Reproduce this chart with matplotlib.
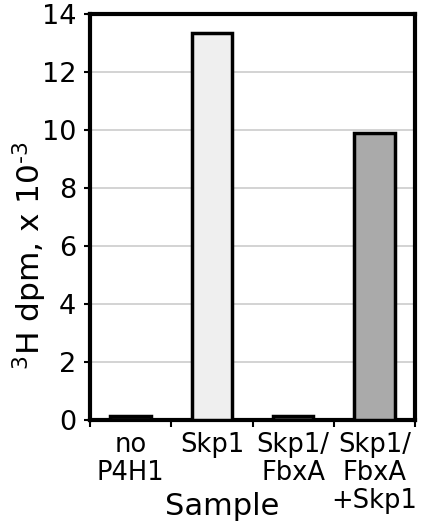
import matplotlib
matplotlib.use("Agg")
import matplotlib.pyplot as plt
import numpy as np

categories = ["no\nP4H1", "Skp1", "Skp1/\nFbxA", "Skp1/\nFbxA\n+Skp1"]
values = [0.15, 13.35, 0.15, 9.9]
colors = ["#111111", "#efefef", "#555555", "#aaaaaa"]
yticks = [0, 2, 4, 6, 8, 10, 12, 14]

plt.rcParams['font.family'] = ['DejaVu Sans']
plt.rcParams['mathtext.fontset'] = 'dejavusans'

fig = plt.figure(figsize=(4.25, 5.22), dpi=100)
ax = fig.add_axes([90/425, 102/522, 325/425, 406/522])

x = np.arange(len(categories))
ax.bar(x, values, width=0.5, color=colors, edgecolor="black", linewidth=2.5, zorder=3)

ax.set_xlim(-0.5, len(categories) - 0.5)
ax.set_ylim(0, 14)
ax.set_yticks(yticks)
ax.set_yticklabels([str(v) for v in yticks])
ax.yaxis.grid(True, color="#cccccc", linewidth=1.2, zorder=0)
ax.set_axisbelow(True)

ax.set_xticks(x)
ax.set_xticklabels(categories, fontsize=18.5, linespacing=1.1)
ax.set_xticks(np.arange(-0.5, len(categories)), minor=True)
ax.tick_params(axis='x', which='major', length=0, pad=9)
ax.tick_params(axis='x', which='minor', length=5, width=1.5, direction='out')
ax.tick_params(axis='y', which='major', length=4, width=1.5, direction='out',
               labelsize=19.5, pad=6)

for s in ax.spines.values():
    s.set_linewidth(3)
    s.set_color("black")

ax.set_ylabel(r"$^{3}$H dpm, x 10$^{\text{-}3}$", fontsize=22.5)
ax.yaxis.set_label_coords(-0.125, 0.404)
ax.set_xlabel("Sample", fontsize=22)
ax.xaxis.set_label_coords(0.406, -0.178)

fig.savefig("out.png", dpi=100)
